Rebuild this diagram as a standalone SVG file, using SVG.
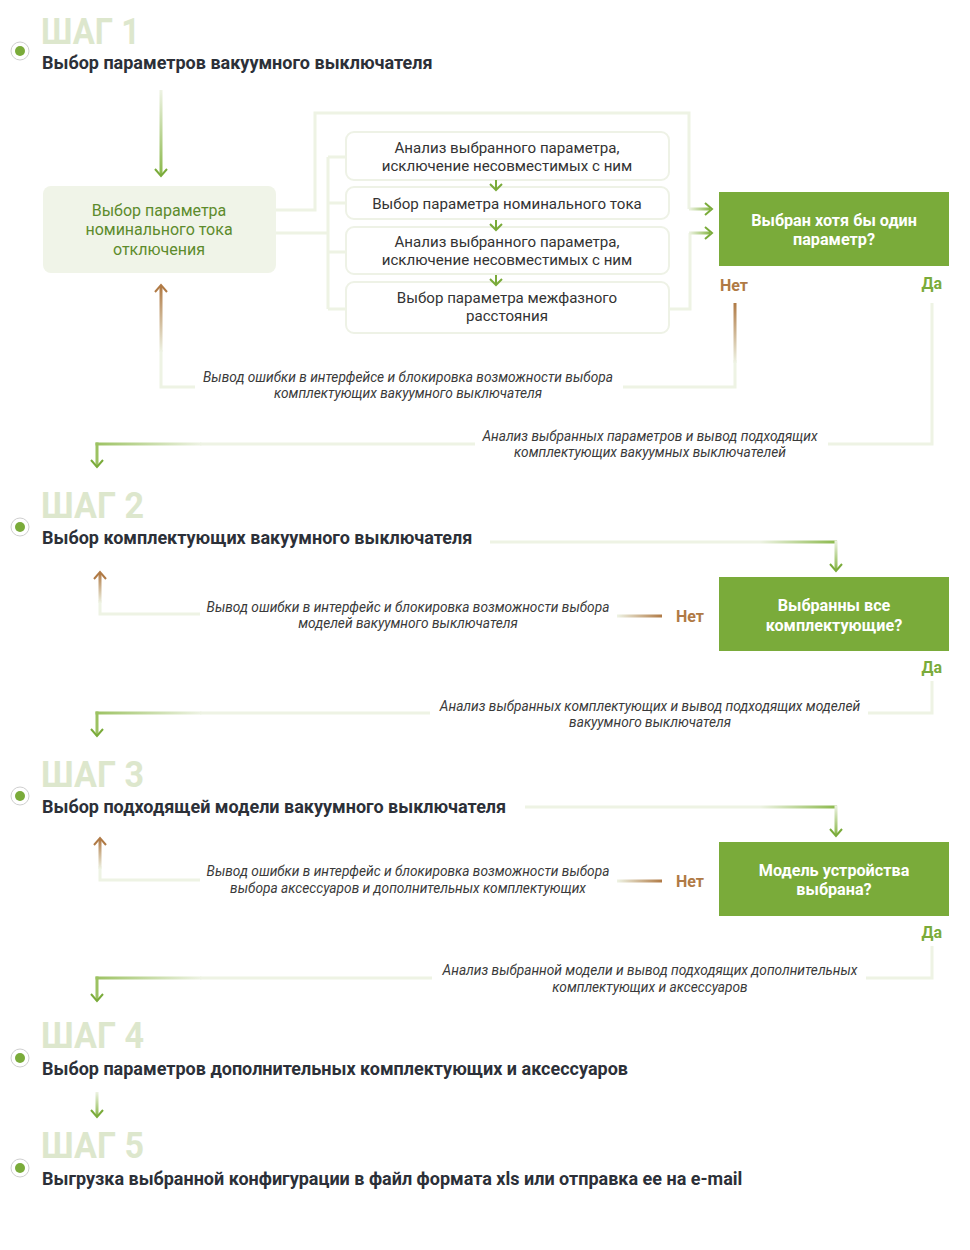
<svg xmlns="http://www.w3.org/2000/svg" width="970" height="1250" viewBox="0 0 970 1250">
<defs>
<style>
.step{font-family:Roboto,"Liberation Sans",sans-serif;font-weight:700;font-size:37px;fill:#dde7cd}
.title{font-family:Roboto,"Liberation Sans",sans-serif;font-weight:700;font-size:18px;fill:#2c3038}
.box{font-family:Roboto,"Liberation Sans",sans-serif;font-size:15.1px;fill:#333;text-anchor:middle}
.lbox{font-family:Roboto,"Liberation Sans",sans-serif;font-size:16px;fill:#5d8b2c;text-anchor:middle}
.dec{font-family:Roboto,"Liberation Sans",sans-serif;font-weight:700;font-size:16.2px;fill:#fff;text-anchor:middle}
.lab{font-family:Roboto,"Liberation Sans",sans-serif;font-style:italic;font-size:13.7px;fill:#3a3a3a;text-anchor:middle}
.no{font-family:Roboto,"Liberation Sans",sans-serif;font-weight:700;font-size:16px;fill:#b07a45}
.yes{font-family:Roboto,"Liberation Sans",sans-serif;font-weight:700;font-size:16px;fill:#7aab3a;text-anchor:end}
.ln{fill:none;stroke:#eef3e4;stroke-width:3}
.ag{fill:none;stroke:#7aab3a;stroke-width:2}
.ab{fill:none;stroke:#b07a45;stroke-width:2}
.mbox{fill:#fff;stroke:#eef2e6;stroke-width:2}
.dbox{fill:#7aab3a}
</style>
<linearGradient id="gDown" x1="0" y1="0" x2="0" y2="1"><stop offset="0" stop-color="#eef3e4"/><stop offset="1" stop-color="#8ab84a"/></linearGradient>
<linearGradient id="gRight" x1="0" y1="0" x2="1" y2="0"><stop offset="0" stop-color="#eef3e4"/><stop offset="1" stop-color="#8ab84a"/></linearGradient>
<linearGradient id="gLeft" x1="0" y1="0" x2="1" y2="0"><stop offset="0" stop-color="#9cc262"/><stop offset="1" stop-color="#eef3e4"/></linearGradient>
<linearGradient id="bUp" x1="0" y1="0" x2="0" y2="1"><stop offset="0" stop-color="#b07a45"/><stop offset="1" stop-color="#eef3e4"/></linearGradient>
<linearGradient id="bRight" x1="0" y1="0" x2="1" y2="0"><stop offset="0" stop-color="#eef3e4"/><stop offset="1" stop-color="#b07a45"/></linearGradient>
<g id="bullet"><circle r="9" fill="#fff" stroke="#cfcfcf" stroke-width="1"/><circle r="5" fill="#7aab3a"/></g>
</defs>
<rect width="970" height="1250" fill="#fff"/>

<g id="step1">
<use href="#bullet" x="20" y="51"/>
<text class="step" x="41" y="44" textLength="99" lengthAdjust="spacingAndGlyphs">ШАГ 1</text>
<text class="title" x="42" y="69">Выбор параметров вакуумного выключателя</text>
</g>

<g id="node-left">
<rect x="43" y="186" width="233" height="87" rx="8" fill="#f0f4e8"/>
<text class="lbox" x="159" y="216">Выбор параметра</text>
<text class="lbox" x="159" y="235">номинального тока</text>
<text class="lbox" x="159" y="255">отключения</text>
</g>

<g id="node-b1">
<rect class="mbox" x="346" y="132" width="323" height="48" rx="8"/>
<text class="box" x="507" y="153">Анализ выбранного параметра,</text>
<text class="box" x="507" y="171">исключение несовместимых с ним</text>
</g>
<g id="node-b2">
<rect class="mbox" x="346" y="187" width="323" height="32" rx="8"/>
<text class="box" x="507" y="209">Выбор параметра номинального тока</text>
</g>
<g id="node-b3">
<rect class="mbox" x="346" y="227" width="323" height="47" rx="8"/>
<text class="box" x="507" y="247">Анализ выбранного параметра,</text>
<text class="box" x="507" y="265">исключение несовместимых с ним</text>
</g>
<g id="node-b4">
<rect class="mbox" x="346" y="282" width="323" height="51" rx="8"/>
<text class="box" x="507" y="303">Выбор параметра межфазного</text>
<text class="box" x="507" y="321">расстояния</text>
</g>

<g id="dec1">
<rect class="dbox" x="719" y="192" width="230" height="74"/>
<text class="dec" x="834" y="226">Выбран хотя бы один</text>
<text class="dec" x="834" y="245">параметр?</text>
<text class="no" x="720" y="291">Нет</text>
<text class="yes" x="942" y="289">Да</text>
</g>

<g id="labels1">
<text class="lab" x="408" y="382">Вывод ошибки в интерфейсе и блокировка возможности выбора</text>
<text class="lab" x="408" y="398">комплектующих вакуумного выключателя</text>
<text class="lab" x="650" y="441">Анализ выбранных параметров и вывод подходящих</text>
<text class="lab" x="650" y="457">комплектующих вакуумных выключателей</text>
</g>

<g id="step2">
<use href="#bullet" x="20" y="527"/>
<text class="step" x="41" y="518" textLength="103" lengthAdjust="spacingAndGlyphs">ШАГ 2</text>
<text class="title" x="42" y="544">Выбор комплектующих вакуумного выключателя</text>
</g>

<g id="dec2">
<rect class="dbox" x="719" y="577" width="230" height="74"/>
<text class="dec" x="834" y="611">Выбранны все</text>
<text class="dec" x="834" y="631">комплектующие?</text>
<text class="no" x="690" y="622" text-anchor="middle">Нет</text>
<text class="yes" x="942" y="673">Да</text>
</g>

<g id="labels2">
<text class="lab" x="408" y="612">Вывод ошибки в интерфейс и блокировка возможности выбора</text>
<text class="lab" x="408" y="628">моделей вакуумного выключателя</text>
<text class="lab" x="650" y="711">Анализ выбранных комплектующих и вывод подходящих моделей</text>
<text class="lab" x="650" y="727">вакуумного выключателя</text>
</g>

<g id="step3">
<use href="#bullet" x="20" y="796"/>
<text class="step" x="41" y="787" textLength="103" lengthAdjust="spacingAndGlyphs">ШАГ 3</text>
<text class="title" x="42" y="813">Выбор подходящей модели вакуумного выключателя</text>
</g>

<g id="dec3">
<rect class="dbox" x="719" y="842" width="230" height="74"/>
<text class="dec" x="834" y="876">Модель устройства</text>
<text class="dec" x="834" y="895">выбрана?</text>
<text class="no" x="690" y="887" text-anchor="middle">Нет</text>
<text class="yes" x="942" y="938">Да</text>
</g>

<g id="labels3">
<text class="lab" x="408" y="876">Вывод ошибки в интерфейс и блокировка возможности выбора</text>
<text class="lab" x="408" y="893">выбора аксессуаров и дополнительных комплектующих</text>
<text class="lab" x="650" y="975">Анализ выбранной модели и вывод подходящих дополнительных</text>
<text class="lab" x="650" y="992">комплектующих и аксессуаров</text>
</g>

<g id="step4">
<use href="#bullet" x="20" y="1058"/>
<text class="step" x="41" y="1048" textLength="103" lengthAdjust="spacingAndGlyphs">ШАГ 4</text>
<text class="title" x="42" y="1075">Выбор параметров дополнительных комплектующих и аксессуаров</text>
</g>

<g id="step5">
<use href="#bullet" x="20" y="1168"/>
<text class="step" x="41" y="1158" textLength="103" lengthAdjust="spacingAndGlyphs">ШАГ 5</text>
<text class="title" x="42" y="1185">Выгрузка выбранной конфигурации в файл формата xls или отправка ее на e-mail</text>
</g>

<g id="connectors">
<rect x="159.5" y="90" width="3" height="85" fill="url(#gDown)"/>
<polyline class="ag" points="155,169 161,176 167,169"/>
<path class="ln" d="M276,210 H315 V113 H689 V209"/>
<rect x="689" y="207.5" width="21" height="3" fill="url(#gRight)"/>
<polyline class="ag" points="705,203 712,209 705,215"/>
<path class="ln" d="M276,233 H328 M328,157 V309 M328,157 H346 M328,203 H346 M328,252 H346 M328,309 H346"/>
<path class="ln" d="M669,309 H690 V233"/>
<rect x="689" y="231.5" width="21" height="3" fill="url(#gRight)"/>
<polyline class="ag" points="705,227 712,233 705,239"/>
<path class="ag" d="M496,180 V190 M490,184 L496,190 L502,184"/>
<path class="ag" d="M496,220 V230 M490,224 L496,230 L502,224"/>
<path class="ag" d="M496,275 V285 M490,279 L496,285 L502,279"/>
<path class="ln" d="M735,360 V387 H623 M195,387 H161 V350"/>
<rect x="733.5" y="303" width="3" height="60" fill="url(#bUp)"/>
<rect x="159.5" y="286" width="3" height="66" fill="url(#bUp)"/>
<polyline class="ab" points="155,292 161,285 167,292"/>
<path class="ln" d="M932,303 V444 H828 M475,444 H200"/>
<rect x="95.5" y="442.5" width="106" height="3" fill="url(#gLeft)"/>
<rect x="95.5" y="442.5" width="3" height="24" fill="#9cc262"/>
<polyline class="ag" points="91,460 97,467 103,460"/>
<path class="ln" d="M490,542 H760"/>
<rect x="760" y="540.5" width="77" height="3" fill="url(#gRight)"/>
<rect x="834.5" y="540.5" width="3" height="29" fill="url(#gDown)"/>
<polyline class="ag" points="830,564 836,571 842,564"/>
<rect x="617" y="614.5" width="45" height="3" fill="url(#bRight)"/>
<path class="ln" d="M200,614 H100 V600"/>
<rect x="98.5" y="573" width="3" height="30" fill="url(#bUp)"/>
<polyline class="ab" points="94,579 100,572 106,579"/>
<path class="ln" d="M932,681 V713 H868 M430,713 H200"/>
<rect x="95.5" y="711.5" width="106" height="3" fill="url(#gLeft)"/>
<rect x="95.5" y="711.5" width="3" height="24" fill="#9cc262"/>
<polyline class="ag" points="91,729 97,736 103,729"/>
<path class="ln" d="M525,807 H760"/>
<rect x="760" y="805.5" width="77" height="3" fill="url(#gRight)"/>
<rect x="834.5" y="805.5" width="3" height="29" fill="url(#gDown)"/>
<polyline class="ag" points="830,829 836,836 842,829"/>
<rect x="617" y="879.5" width="45" height="3" fill="url(#bRight)"/>
<path class="ln" d="M200,880 H100 V866"/>
<rect x="98.5" y="839" width="3" height="30" fill="url(#bUp)"/>
<polyline class="ab" points="94,845 100,838 106,845"/>
<path class="ln" d="M932,946 V978 H866 M432,978 H200"/>
<rect x="95.5" y="976.5" width="106" height="3" fill="url(#gLeft)"/>
<rect x="95.5" y="976.5" width="3" height="24" fill="#9cc262"/>
<polyline class="ag" points="91,994 97,1001 103,994"/>
<rect x="95.5" y="1092" width="3" height="24" fill="url(#gDown)"/>
<polyline class="ag" points="91,1110 97,1117 103,1110"/>
</g>
</svg>
